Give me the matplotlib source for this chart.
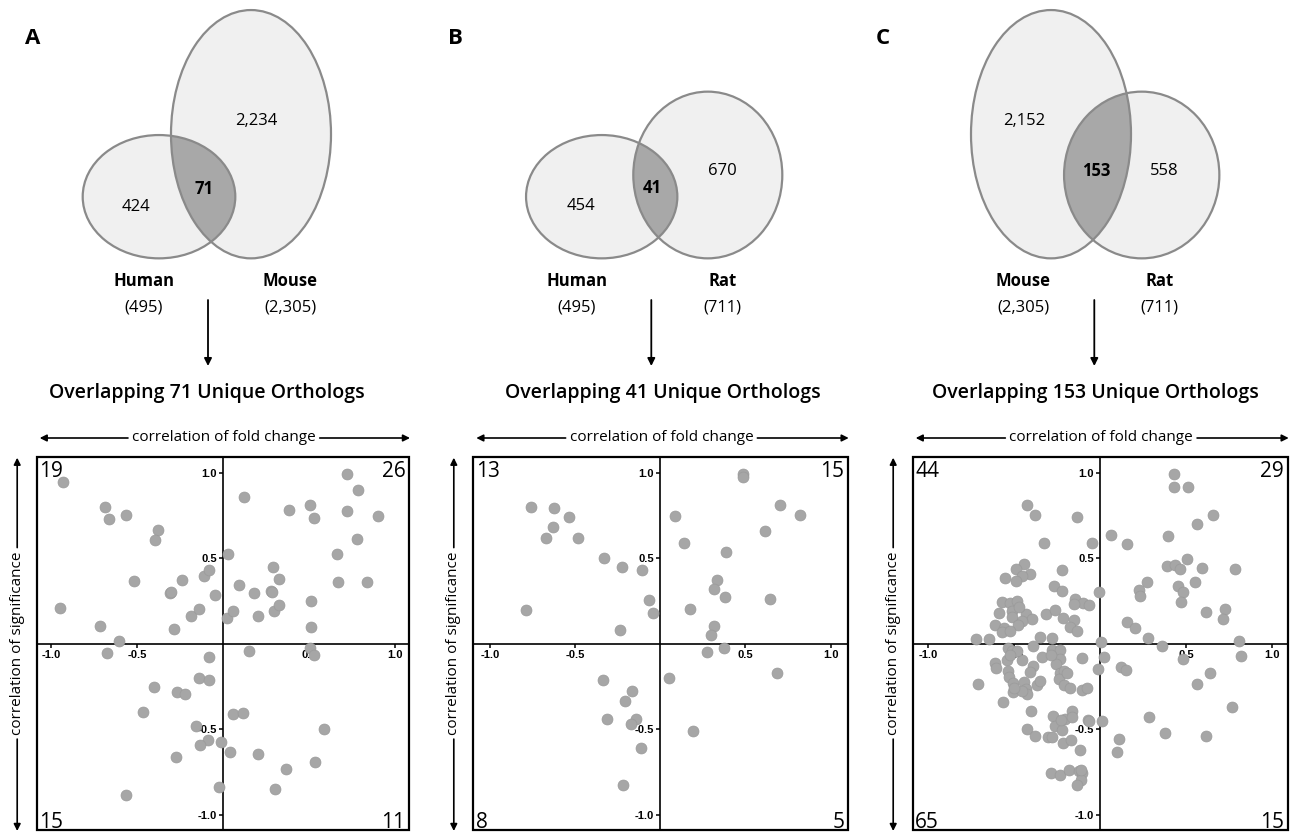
import matplotlib
matplotlib.use('Agg')
import matplotlib.pyplot as plt
from matplotlib.patches import Ellipse, Rectangle

plt.rcParams['font.family'] = ['Open Sans', 'DejaVu Sans']

# ---------------- data ----------------
panel_letters = ['A', 'B', 'C']
venn_left_names = ['Human', 'Human', 'Mouse']
venn_right_names = ['Mouse', 'Rat', 'Rat']
venn_left_totals = ['(495)', '(495)', '(2,305)']
venn_right_totals = ['(2,305)', '(711)', '(711)']
venn_left_only = ['424', '454', '2,152']
venn_right_only = ['2,234', '670', '558']
venn_overlap = ['71', '41', '153']
titles = ['Overlapping 71 Unique Orthologs',
          'Overlapping 41 Unique Orthologs',
          'Overlapping 153 Unique Orthologs']
# quadrant counts: upper-left, upper-right, lower-left, lower-right
quad_counts = [[19, 26, 15, 11], [13, 15, 8, 5], [44, 29, 65, 15]]
x_label = 'correlation of fold change'
y_label = 'correlation of significance'
tick_vals = [-1.0, -0.5, 0.5, 1.0]
tick_text = ['-1.0', '-0.5', '0.5', '1.0']

# Panel A: Human vs Mouse
a_x = [-0.932, -0.686, -0.665, -0.562, -0.378, -0.393, -0.517, -0.946, -0.713, -0.605,
       -0.308, -0.300, -0.236, -0.287, -0.184, -0.138, -0.109, -0.083, -0.048,
       0.031, 0.120, 0.025, 0.056, 0.093, 0.182, 0.202, 0.277, 0.287, 0.289,
       0.326, 0.297, 0.326, 0.384, 0.504, 0.531, 0.510, 0.510, 0.719, 0.785,
       0.721, 0.899, 0.779, 0.665, 0.671, 0.837,
       0.504, 0.527, 0.151, 0.060, 0.116, 0.041, 0.203, 0.366, 0.304, 0.533, 0.587,
       -0.674, -0.079, -0.138, -0.079, -0.401, -0.269, -0.219, -0.463, -0.159,
       -0.087, -0.134, -0.014, -0.273, -0.021, -0.564]
a_y = [0.945, 0.801, 0.731, 0.752, 0.669, 0.610, 0.368, 0.211, 0.105, 0.016,
       0.300, 0.302, 0.372, 0.090, 0.164, 0.207, 0.400, 0.433, 0.285,
       0.524, 0.860, 0.152, 0.195, 0.347, 0.300, 0.162, 0.310, 0.306, 0.448,
       0.378, 0.195, 0.228, 0.784, 0.811, 0.735, 0.251, 0.097, 0.994, 0.899,
       0.780, 0.747, 0.614, 0.528, 0.365, 0.365,
       -0.021, -0.062, -0.039, -0.409, -0.402, -0.630, -0.641, -0.733, -0.846, -0.690, -0.499,
       -0.053, -0.076, -0.197, -0.211, -0.251, -0.279, -0.292, -0.396, -0.478,
       -0.563, -0.589, -0.571, -0.663, -0.836, -0.885]

# Panel B: Human vs Rat
b_x = [-0.759, -0.624, -0.534, -0.628, -0.669, -0.485, -0.329, -0.225, -0.108, -0.067,
       -0.041, -0.789, -0.235,
       0.086, 0.139, 0.487, 0.485, 0.703, 0.818, 0.613, 0.384, 0.331, 0.313,
       0.382, 0.176, 0.313, 0.295, 0.646,
       0.272, 0.374, 0.051, 0.683, 0.190,
       -0.335, -0.164, -0.205, -0.315, -0.141, -0.174, -0.114, -0.221]
b_y = [0.801, 0.795, 0.741, 0.686, 0.622, 0.622, 0.505, 0.450, 0.431, 0.259,
       0.181, 0.201, 0.082,
       0.749, 0.591, 0.994, 0.979, 0.813, 0.756, 0.661, 0.538, 0.374, 0.320,
       0.277, 0.207, 0.105, 0.051, 0.261,
       -0.047, -0.023, -0.199, -0.168, -0.509,
       -0.212, -0.277, -0.335, -0.437, -0.439, -0.468, -0.606, -0.823]

# Panel C: Mouse vs Rat
c_x = [0.431, 0.431, 0.511, 0.660, 0.563, 0.066, 0.159, 0.396, 0.507, 0.388,
       0.439, 0.468, 0.596, 0.788, 0.276, 0.553, 0.225, 0.233, 0.456, 0.482,
       0.470, 0.617, 0.730, 0.715, 0.155, 0.204, 0.278, 0.808, 0.008,
       0.363, 0.821, 0.482, 0.025, 0.120, 0.153, 0.643, 0.567, 0.767, 0.287,
       0.377, 0.619, 0.010, 0.111, 0.097,
       -0.425, -0.379, -0.132, -0.328, -0.049, -0.443, -0.491, -0.410, -0.454, -0.551,
       -0.491, -0.221, -0.268, -0.223, -0.008, -0.144, -0.101, -0.062, -0.150, -0.571,
       -0.526, -0.485, -0.586, -0.511, -0.515, -0.429, -0.398, -0.454, -0.476, -0.612,
       -0.561, -0.573, -0.524, -0.317, -0.260, -0.216, -0.151, -0.175, -0.132, -0.720,
       -0.649, -0.350, -0.278, -0.470,
       -0.538, -0.511, -0.388, -0.278, -0.235, -0.340, -0.233, -0.258, -0.105, -0.012,
       -0.544, -0.454, -0.612, -0.608, -0.388, -0.408, -0.534, -0.528, -0.509, -0.713,
       -0.443, -0.431, -0.423, -0.509, -0.456, -0.365, -0.351, -0.233, -0.208, -0.237,
       -0.208, -0.173, -0.105, -0.076, -0.563, -0.404, -0.272, -0.204, -0.163, -0.163,
       -0.262, -0.223, -0.072, -0.062, -0.423, -0.377, -0.303, -0.280, -0.217, -0.167,
       -0.118, -0.285, -0.233, -0.181, -0.124, -0.103, -0.111, -0.136, -0.485, -0.287,
       -0.499, -0.190, -0.109, -0.227, -0.524]
c_y = [0.994, 0.918, 0.918, 0.754, 0.700, 0.637, 0.583, 0.634, 0.495, 0.454,
       0.464, 0.437, 0.444, 0.441, 0.365, 0.365, 0.314, 0.281, 0.339, 0.304,
       0.246, 0.187, 0.205, 0.144, 0.127, 0.096, 0.037, 0.018, 0.012,
       -0.012, -0.070, -0.086, -0.074, -0.133, -0.154, -0.168, -0.234, -0.366, -0.427,
       -0.522, -0.540, -0.452, -0.554, -0.632,
       0.813, 0.752, 0.743, 0.593, 0.593, 0.468, 0.441, 0.409, 0.396, 0.384,
       0.370, 0.435, 0.337, 0.312, 0.306, 0.261, 0.242, 0.226, 0.236, 0.248,
       0.242, 0.253, 0.181, 0.191, 0.160, 0.175, 0.146, 0.133, 0.109, 0.111,
       0.096, 0.070, 0.074, 0.177, 0.199, 0.152, 0.140, 0.101, 0.078, 0.029,
       0.029, 0.043, 0.035, 0.215,
       -0.023, -0.043, -0.014, -0.037, -0.033, -0.078, -0.086, -0.117, -0.082, -0.146,
       -0.092, -0.096, -0.111, -0.140, -0.129, -0.166, -0.160, -0.195, -0.228, -0.236,
       -0.222, -0.261, -0.292, -0.283, -0.273, -0.238, -0.218, -0.170, -0.160, -0.203,
       -0.238, -0.257, -0.269, -0.257, -0.339, -0.390, -0.421, -0.439, -0.392, -0.427,
       -0.480, -0.501, -0.444, -0.452, -0.495, -0.536, -0.546, -0.546, -0.577, -0.561,
       -0.620, -0.756, -0.768, -0.735, -0.745, -0.754, -0.795, -0.823, -0.043, -0.062,
       -0.257, -0.170, -0.735, -0.444, -0.062]

panel_x = [a_x, b_x, c_x]
panel_y = [a_y, b_y, c_y]

# ---------------- layout (pixels) ----------------
W, H = 1292, 834
fig = plt.figure(figsize=(W / 100, H / 100), dpi=100)
ov = fig.add_axes([0, 0, 1, 1])
ov.set_xlim(0, W)
ov.set_ylim(H, 0)
ov.axis('off')

LIGHT = '#f0f0f0'
DARK = '#a8a8a8'
EDGE = '#8a8a8a'
DOT = '#a6a6a6'

# ellipse geometry: (cx, cy, w, h) for left and right sets
venn_left_geom = [(159, 196.7, 152.6, 123.3), (601.7, 196.7, 151.3, 123.3), (1051, 134.2, 160, 248.3)]
venn_right_geom = [(251, 134.2, 160, 248.3), (707.8, 175, 149, 166.7), (1141.7, 175, 155.3, 166.7)]
left_only_pos = [(136, 207), (580.7, 206), (1024.3, 121)]
right_only_pos = [(256, 121), (722.7, 170.7), (1164.3, 170.7)]
overlap_pos = [(204, 189), (652.7, 188.3), (1096.7, 170.7)]
left_name_x = [144, 576.7, 1023.3]
right_name_x = [290, 722.7, 1159.3]
arrow_x = [208, 651.3, 1094.3]
title_x = [207, 662.8, 1095.3]
letter_x = [33, 455, 883.3]

box_lr = [(36.7, 409.0), (473.3, 847.7), (912.7, 1287.7)]
box_top, box_bot = 456.7, 830.0
xlims = [(-1.083, 1.082), (-1.098, 1.100), (-1.091, 1.093)]
ylim = (-1.088, 1.095)

for i in range(3):
    # panel letter
    ov.text(letter_x[i], 38, panel_letters[i], fontsize=16, fontweight='bold',
            ha='center', va='center')
    # venn
    lg, rg = venn_left_geom[i], venn_right_geom[i]
    e1 = Ellipse((lg[0], lg[1]), lg[2], lg[3], facecolor=LIGHT, edgecolor='none', zorder=1)
    e2 = Ellipse((rg[0], rg[1]), rg[2], rg[3], facecolor=LIGHT, edgecolor='none', zorder=1)
    ov.add_patch(e1)
    ov.add_patch(e2)
    inter = Ellipse((rg[0], rg[1]), rg[2], rg[3], facecolor=DARK, edgecolor='none', zorder=2)
    ov.add_patch(inter)
    inter.set_clip_path(e1)
    for g in (lg, rg):
        ov.add_patch(Ellipse((g[0], g[1]), g[2], g[3], facecolor='none',
                             edgecolor=EDGE, lw=1.6, zorder=3))
    ov.text(*left_only_pos[i], venn_left_only[i], fontsize=12, ha='center', va='center', zorder=4)
    ov.text(*right_only_pos[i], venn_right_only[i], fontsize=12, ha='center', va='center', zorder=4)
    ov.text(*overlap_pos[i], venn_overlap[i], fontsize=12, fontweight='bold',
            ha='center', va='center', zorder=4)
    ov.text(left_name_x[i], 281, venn_left_names[i], fontsize=12, fontweight='bold',
            ha='center', va='center')
    ov.text(left_name_x[i], 307, venn_left_totals[i], fontsize=12, ha='center', va='center')
    ov.text(right_name_x[i], 281, venn_right_names[i], fontsize=12, fontweight='bold',
            ha='center', va='center')
    ov.text(right_name_x[i], 307, venn_right_totals[i], fontsize=12, ha='center', va='center')
    ov.annotate('', xy=(arrow_x[i], 366), xytext=(arrow_x[i], 300),
                arrowprops=dict(arrowstyle='-|>', lw=1.3, color='black',
                                mutation_scale=11, shrinkA=0, shrinkB=0))
    ov.text(title_x[i], 393, titles[i], fontsize=14, fontweight='semibold',
            ha='center', va='center')

    # scatter axes
    l, r = box_lr[i]
    ax = fig.add_axes([l / W, (H - box_bot) / H, (r - l) / W, (box_bot - box_top) / H])
    ax.set_xlim(*xlims[i])
    ax.set_ylim(*ylim)
    ax.scatter(panel_x[i], panel_y[i], s=62, color=DOT, edgecolor='#9a9a9a',
               linewidth=0.5, zorder=5, clip_on=False)
    for side in ('top', 'right'):
        ax.spines[side].set_visible(False)
    ax.spines['left'].set_position(('data', 0))
    ax.spines['bottom'].set_position(('data', 0))
    ax.spines['left'].set_linewidth(1.2)
    ax.spines['bottom'].set_linewidth(1.2)
    ax.add_patch(Rectangle((0, 0), 1, 1, transform=ax.transAxes, fill=False,
                           lw=1.6, edgecolor='black', zorder=6, clip_on=False))
    ax.set_xticks(tick_vals)
    ax.set_xticklabels(tick_text, fontweight='bold', fontsize=8,
                       fontfamily=['Liberation Sans', 'DejaVu Sans'])
    ax.set_yticks(tick_vals)
    ax.set_yticklabels(tick_text, fontweight='bold', fontsize=8,
                       fontfamily=['Liberation Sans', 'DejaVu Sans'])
    ax.tick_params(direction='out', length=3, width=1.1, pad=1.5, labelsize=8)
    ax.patch.set_alpha(0)

    # quadrant counts
    ul, ur, ll, lr = quad_counts[i]
    ov.text(l + 2.5, 476.7, str(ul), fontsize=15, fontweight='medium', ha='left', va='baseline')
    ov.text(r - 3.5, 476.7, str(ur), fontsize=15, fontweight='medium', ha='right', va='baseline')
    ov.text(l + 2.5, 828, str(ll), fontsize=15, fontweight='medium', ha='left', va='baseline')
    ov.text(r - 3.5, 828, str(lr), fontsize=15, fontweight='medium', ha='right', va='baseline')

    # axis labels with arrows
    cx = (l + r) / 2
    tx = ov.text(cx + 1, 437, x_label, fontsize=11, ha='center', va='center')
    ty = ov.text(l - 19.5, (box_top + box_bot) / 2, y_label, fontsize=11, rotation=90,
                 ha='center', va='center')
    fig.canvas.draw()
    inv = ov.transData.inverted()
    bb = tx.get_window_extent()
    (x0, _), (x1, _) = inv.transform([(bb.x0, bb.y0), (bb.x1, bb.y1)])
    ap = dict(arrowstyle='-|>', lw=1.2, color='black', mutation_scale=10, shrinkA=0, shrinkB=0)
    ov.annotate('', xy=(l + 3, 438), xytext=(x0 - 4, 438), arrowprops=ap)
    ov.annotate('', xy=(r + 1, 438), xytext=(x1 + 4, 438), arrowprops=ap)
    bb = ty.get_window_extent()
    (_, y0), (_, y1) = inv.transform([(bb.x0, bb.y0), (bb.x1, bb.y1)])
    xm = l - 19.5
    ov.annotate('', xy=(xm, box_top + 1), xytext=(xm, min(y0, y1) - 4), arrowprops=ap)
    ov.annotate('', xy=(xm, box_bot + 1), xytext=(xm, max(y0, y1) + 4), arrowprops=ap)

fig.savefig('out.png', dpi=100)
